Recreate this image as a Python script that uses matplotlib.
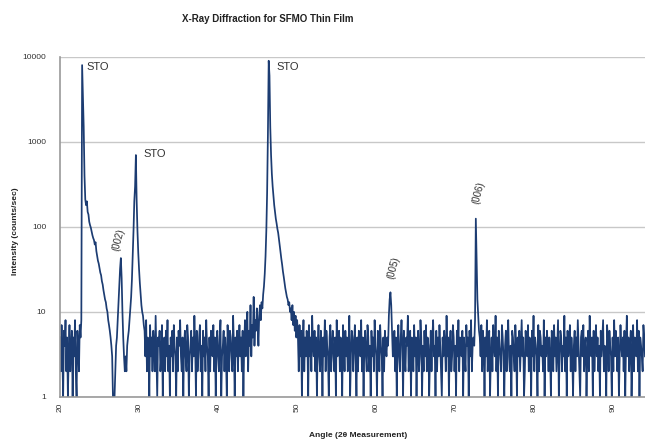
import numpy as np
import matplotlib
matplotlib.use("Agg")
import matplotlib.pyplot as plt
from matplotlib.ticker import FixedLocator, FuncFormatter

plt.rcParams['font.family'] = ['Liberation Sans', 'DejaVu Sans']

# scan, 0.1 degree step, counts/sec
# each segment: (first angle, values)
step = 0.1

noise_a = [5, 2, 7, 3, 1, 6, 4, 8, 2, 5, 1, 3, 7, 2, 4, 6, 1, 5, 3, 8, 2, 1, 6, 4, 2, 7, 5]

sto_peaks = [8, 8000, 3500, 1500, 400, 210, 180, 200, 150, 140,
             115, 105, 98, 88, 80, 74, 70, 62, 66, 52,
             46, 40, 37, 33, 29, 27, 23, 21, 18, 16,
             14, 13, 11, 10, 8, 7, 6, 5, 4, 3,
             1, 1, 1, 2, 4, 5, 8, 12, 20, 32,
             43, 25, 10, 5, 3, 2, 3, 2, 4, 5,
             6, 8, 11, 15, 24, 45, 90, 200, 300, 700,
             200, 90, 50, 32, 22, 16, 12, 10, 9, 7]

noise_c = [6, 3, 8, 2, 5, 4, 1, 7, 3, 5, 2, 6, 4, 2, 9, 3, 1, 5, 4, 6, 2, 3, 7, 1, 4, 5, 2, 6, 3, 8,
           2, 4, 1, 5, 3, 6, 2, 7, 4, 3, 1, 5, 2, 6, 4, 8, 3, 2, 5, 1, 4, 6, 3, 2, 7, 5, 1, 3, 4, 6,
           2, 5, 3, 9, 4, 1, 6, 2, 3, 5, 7, 2, 4, 1, 6, 3, 5, 2, 8, 4, 3, 1, 5, 2, 6, 4, 3, 7, 2, 5,
           1, 4, 6, 3, 2, 5, 8, 1, 3, 4, 6, 2, 5, 3, 1, 7, 4, 2, 6, 5, 3, 2, 9, 4, 1, 5, 3, 6, 2, 4,
           7, 3, 5, 2, 6, 1, 4, 8, 3, 5, 10, 2, 6, 4, 12, 3, 7, 5, 15, 4, 8, 6, 11, 7]

sto_main = [4, 9, 12, 8, 13, 11, 16, 20, 28, 45,
            90, 250, 1200, 9000, 6000, 1500, 700, 420, 300, 230,
            180, 150, 125, 110, 95, 85, 72, 60, 50, 42,
            36, 30, 26, 22, 19, 17, 15, 14, 12, 13,
            10, 11, 8, 12, 7, 10, 6, 9, 5, 8]

noise_e = [5, 2, 7, 3, 6, 1, 4, 8, 2, 5, 3, 6, 4, 1, 7, 3, 5, 2, 9, 4, 3, 6, 2, 5, 1, 4, 7, 3, 2, 6,
           4, 1, 5, 3, 8, 2, 6, 4, 3, 1, 5, 7, 2, 4, 6, 3, 2, 5, 1, 8, 3, 4, 6, 2, 5, 3, 1, 7, 4, 2,
           6, 3, 5, 2, 4, 9, 1, 3, 6, 5, 2, 4, 7, 3, 1, 5, 2, 6, 4, 3, 8, 2, 5, 1, 4, 6, 3, 2, 7, 5,
           2, 4, 1, 6, 3, 5, 2, 8, 4, 3, 1, 6, 5, 2, 7, 4, 3, 1, 5, 2, 6, 4, 3, 5]

peak_005 = [4, 9, 14, 17, 12, 6, 3]

noise_g = [3, 6, 2, 5, 1, 4, 7, 3, 2, 5, 8, 4, 1, 6, 3, 2, 5, 4, 9, 2, 3, 6, 1, 5, 4, 2, 7, 3, 5, 1,
           4, 6, 2, 3, 8, 5, 1, 4, 2, 6, 3, 7, 2, 5, 4, 1, 3, 6, 2, 5, 8, 3, 4, 1, 6, 2, 5, 3, 7, 4,
           2, 1, 5, 3, 6, 4, 2, 9, 3, 5, 1, 4, 6, 2, 3, 7, 5, 2, 4, 1, 6, 3, 8, 2, 5, 4, 3, 6, 1, 5,
           3, 2, 7, 4, 5, 1, 6, 3, 8, 2, 4, 5]

peak_006 = [4, 8, 125, 40, 14, 9, 6]

noise_i = [5, 3, 7, 2, 6, 4, 1, 5, 3, 8, 2, 4, 6, 1, 3, 5, 2, 7, 4, 3, 9, 2, 5, 1, 6, 4, 3, 2, 7, 5,
           3, 1, 4, 6, 2, 5, 8, 3, 2, 4, 1, 6, 5, 3, 2, 7, 4, 1, 5, 3, 6, 2, 4, 8, 3, 5, 1, 2, 6, 4,
           3, 7, 2, 5, 4, 1, 6, 3, 9, 2, 5, 4, 3, 1, 7, 2, 6, 5, 3, 4, 2, 8, 1, 5, 3, 6, 4, 2, 5, 3,
           1, 6, 4, 2, 7, 3, 5, 2, 4, 8, 1, 3, 6, 5, 2, 4, 3, 9, 2, 5, 1, 6, 3, 4, 7, 2, 5, 3, 1, 4,
           6, 2, 5, 3, 8, 4, 2, 1, 5, 6, 3, 7, 2, 4, 5, 1, 3, 6, 2, 9, 4, 3, 5, 1, 6, 2, 4, 7, 3, 5,
           2, 4, 1, 6, 3, 5, 8, 2, 4, 3, 1, 7, 5, 2, 6, 4, 3, 1, 5, 2, 8, 3, 6, 4, 2, 5, 1, 3, 7, 4,
           3, 5, 2, 6, 1, 4, 9, 3, 5, 2, 4, 6, 1, 3, 7, 2, 5, 4, 3, 8, 2, 6, 1, 5, 4, 3, 2, 7, 5, 3]

segments = [(20.0, noise_a), (22.7, sto_peaks), (30.7, noise_c), (45.1, sto_main),
            (50.1, noise_e), (61.5, peak_005), (62.2, noise_g), (72.4, peak_006),
            (73.1, noise_i)]

angle = np.concatenate([a0 + step * np.arange(len(v)) for a0, v in segments])
intensity = np.concatenate([np.array(v, dtype=float) for a0, v in segments])

# peak labels: (text, angle, intensity, rotation)
peak_labels = [("STO", 23.4, 7600, 0), ("STO", 30.6, 720, 0), ("STO", 47.4, 7600, 0),
               ("(002)", 27.4, 70, 75), ("(005)", 62.2, 33, 75), ("(006)", 72.9, 255, 75)]

fig = plt.figure(figsize=(6.45, 4.41), dpi=100)
ax = fig.add_axes([0.093, 0.1, 0.907, 0.771])

ax.plot(angle, intensity, color='#1c3c72', linewidth=1.25)
ax.set_yscale('log')
ax.set_ylim(1, 10000)
ax.set_xlim(20, 94)

ax.yaxis.set_major_locator(FixedLocator([1, 10, 100, 1000, 10000]))
ax.yaxis.set_major_formatter(FuncFormatter(lambda v, p: f"{int(round(v))}"))
ax.yaxis.set_minor_locator(FixedLocator([]))
ax.set_xticks(range(20, 91, 10))
ax.tick_params(axis='x', labelrotation=90, labelsize=6, length=0, pad=4, colors='#333333')
ax.tick_params(axis='y', labelsize=6, length=0, pad=10, colors='#333333')

ax.grid(axis='y', color='#c8c8c8', linewidth=1.0)
ax.set_axisbelow(True)
for side in ['top', 'right']:
    ax.spines[side].set_visible(False)
for side in ['left', 'bottom']:
    ax.spines[side].set_color('#999999')
    ax.spines[side].set_linewidth(1.2)

for text, x, y, rot in peak_labels:
    ax.text(x, y, text, rotation=rot, fontsize=8 if rot == 0 else 7,
            color='#333333', ha='left' if rot == 0 else 'center', va='center')

fig.text(0.415, 0.958, "X-Ray Diffraction for SFMO Thin Film", ha='center', va='center',
         fontsize=7, fontweight='bold', color='#222222')
fig.text(0.555, 0.013, "Angle (2θ Measurement)", ha='center', va='center',
         fontsize=6, fontweight='bold', color='#222222')
fig.text(0.024, 0.475, "Intensity (counts/sec)", ha='center', va='center', rotation=90,
         fontsize=6, fontweight='bold', color='#222222')

fig.savefig('out.png', dpi=100)
